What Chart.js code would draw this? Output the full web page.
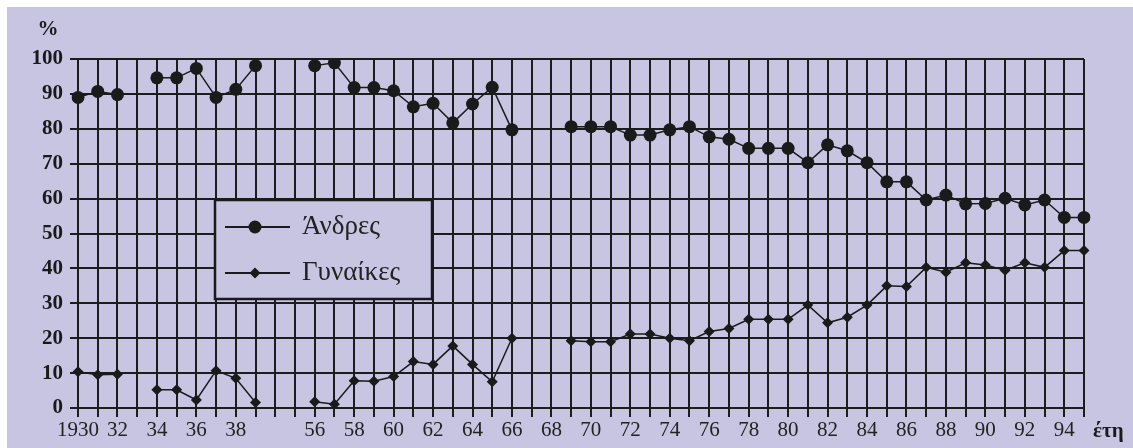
<!DOCTYPE html>
<html>
<head>
<meta charset="utf-8">
<script src="https://cdn.jsdelivr.net/npm/chart.js@4.4.1/dist/chart.umd.min.js"></script>
<style>
    body { margin: 0; background: #ffffff; }
    #frame { position: absolute; left: 7px; top: 7px; width: 1126px; height: 441px; background: #c8c5e2; }
</style>
</head>
<body>
<div id="frame"><canvas id="grafico" width="1126" height="441"></canvas></div>
<script>

// κατηγορίες (δύο κενές στήλες μετά το 1939)
const categories = [
    '1930', '1931', '1932', '1933', '1934', '1935', '1936', '1937', '1938', '1939',
    '', '',
    '1956', '1957', '1958', '1959', '1960', '1961', '1962', '1963', '1964', '1965',
    '1966', '1967', '1968', '1969', '1970', '1971', '1972', '1973', '1974', '1975',
    '1976', '1977', '1978', '1979', '1980', '1981', '1982', '1983', '1984', '1985',
    '1986', '1987', '1988', '1989', '1990', '1991', '1992', '1993', '1994', '1995'
];

const tickLabels = [
    '1930', '', '32', '', '34', '', '36', '', '38', '',
    '', '',
    '56', '', '58', '', '60', '', '62', '', '64', '',
    '66', '', '68', '', '70', '', '72', '', '74', '',
    '76', '', '78', '', '80', '', '82', '', '84', '',
    '86', '', '88', '', '90', '', '92', '', '94', ''
];

const andres = [
    89, 90.7, 89.8, null, 94.6, 94.6, 97.3, 89, 91.3, 98.1,
    null, null,
    98.1, 98.9, 91.8, 91.8, 90.9, 86.3, 87.3, 81.7, 87.1, 91.9,
    79.7, null, null, 80.6, 80.6, 80.6, 78.2, 78.2, 79.7, 80.6,
    77.7, 77, 74.4, 74.4, 74.4, 70.3, 75.4, 73.7, 70.3, 64.8,
    64.8, 59.6, 61, 58.5, 58.6, 60.1, 58.2, 59.6, 54.6, 54.6
];

const gynaikes = [
    10.4, 9.5, 9.7, null, 5.2, 5.2, 2.3, 10.7, 8.5, 1.6,
    null, null,
    1.8, 1.1, 7.8, 7.7, 9.0, 13.3, 12.5, 17.8, 12.5, 7.5,
    20.0, null, null, 19.3, 19.0, 19.0, 21.2, 21.2, 20.0, 19.3,
    21.9, 22.8, 25.4, 25.4, 25.4, 29.5, 24.4, 26.0, 29.5, 35.0,
    34.8, 40.3, 38.9, 41.6, 41.0, 39.5, 41.6, 40.3, 45.1, 45.1
];

const yTicks = [0, 10, 20, 30, 40, 50, 60, 70, 80, 90, 100];

const corGrade = '#1c1c1c';
const corFundo = '#c8c5e2';

function desenharMarcador(ctx, estilo, x, y, r) {
    ctx.beginPath();
    if (estilo === 'circle') {
        ctx.arc(x, y, r, 0, Math.PI * 2);
    } else {
        ctx.moveTo(x, y - r);
        ctx.lineTo(x + r, y);
        ctx.lineTo(x, y + r);
        ctx.lineTo(x - r, y);
        ctx.closePath();
    }
    ctx.fill();
}

const extras = {
    id: 'extras',
    afterDraw(chart) {
        const ctx = chart.ctx;
        ctx.save();
        ctx.fillStyle = '#1a1a1a';
        ctx.font = 'bold 21px "Liberation Serif"';
        ctx.textBaseline = 'middle';
        ctx.textAlign = 'center';
        ctx.fillText('%', 41, 23);
        ctx.textAlign = 'left';
        ctx.fillText('έτη', 1086, 425);

        // υπόμνημα
        ctx.fillStyle = corFundo;
        ctx.fillRect(208, 193, 217, 99);
        ctx.strokeStyle = '#1a1a1a';
        ctx.lineWidth = 2.5;
        ctx.strokeRect(208, 193, 217, 99);

        const itens = [
            { texto: chart.data.datasets[0].label, estilo: 'circle', r: 6.5, y: 220 },
            { texto: chart.data.datasets[1].label, estilo: 'diamond', r: 5.5, y: 266 }
        ];
        itens.forEach(item => {
            ctx.strokeStyle = '#1a1a1a';
            ctx.lineWidth = 2;
            ctx.beginPath();
            ctx.moveTo(218, item.y);
            ctx.lineTo(283, item.y);
            ctx.stroke();
            ctx.fillStyle = '#1a1a1a';
            desenharMarcador(ctx, item.estilo, 248, item.y, item.r);
            ctx.font = '27px "Liberation Serif"';
            ctx.fillStyle = '#222';
            ctx.fillText(item.texto, 295, item.y);
        });
        ctx.restore();
    }
};

new Chart(document.getElementById('grafico'), {
    type: 'line',
    data: {
        labels: categories,
        datasets: [
            {
                label: 'Άνδρες',
                data: andres,
                borderColor: '#1a1a1a',
                backgroundColor: '#1a1a1a',
                borderWidth: 1.5,
                pointStyle: 'circle',
                pointRadius: 6.5,
                pointBorderWidth: 0,
                spanGaps: false,
                tension: 0
            },
            {
                label: 'Γυναίκες',
                data: gynaikes,
                borderColor: '#1a1a1a',
                backgroundColor: '#1a1a1a',
                borderWidth: 1.5,
                pointStyle: 'rectRot',
                pointRadius: 5.5,
                pointBorderWidth: 0,
                spanGaps: false,
                tension: 0
            }
        ]
    },
    options: {
        responsive: false,
        animation: false,
        devicePixelRatio: 1,
        layout: { padding: { top: 52, right: 49, left: 0, bottom: 0 } },
        plugins: {
            legend: { display: false },
            tooltip: { enabled: false }
        },
        scales: {
            x: {
                type: 'category',
                offset: false,
                grid: { color: corGrade, lineWidth: 2, tickLength: 9 },
                border: { color: corGrade, width: 2 },
                ticks: {
                    autoSkip: false,
                    maxRotation: 0,
                    padding: 1,
                    color: '#222',
                    font: { family: 'Liberation Serif', size: 21 },
                    callback: (v, i) => tickLabels[i]
                },
                afterFit(s) { s.height = 40; }
            },
            y: {
                min: 0,
                max: 100,
                afterBuildTicks(s) { s.ticks = yTicks.map(v => ({ value: v })); },
                grid: { color: corGrade, lineWidth: 2, tickLength: 8 },
                border: { color: corGrade, width: 2 },
                ticks: {
                    padding: 7,
                    color: '#1a1a1a',
                    font: { family: 'Liberation Serif', size: 21, weight: 'bold' }
                },
                afterFit(s) { s.width = 71; }
            }
        }
    },
    plugins: [extras]
});

</script>
</body>
</html>
